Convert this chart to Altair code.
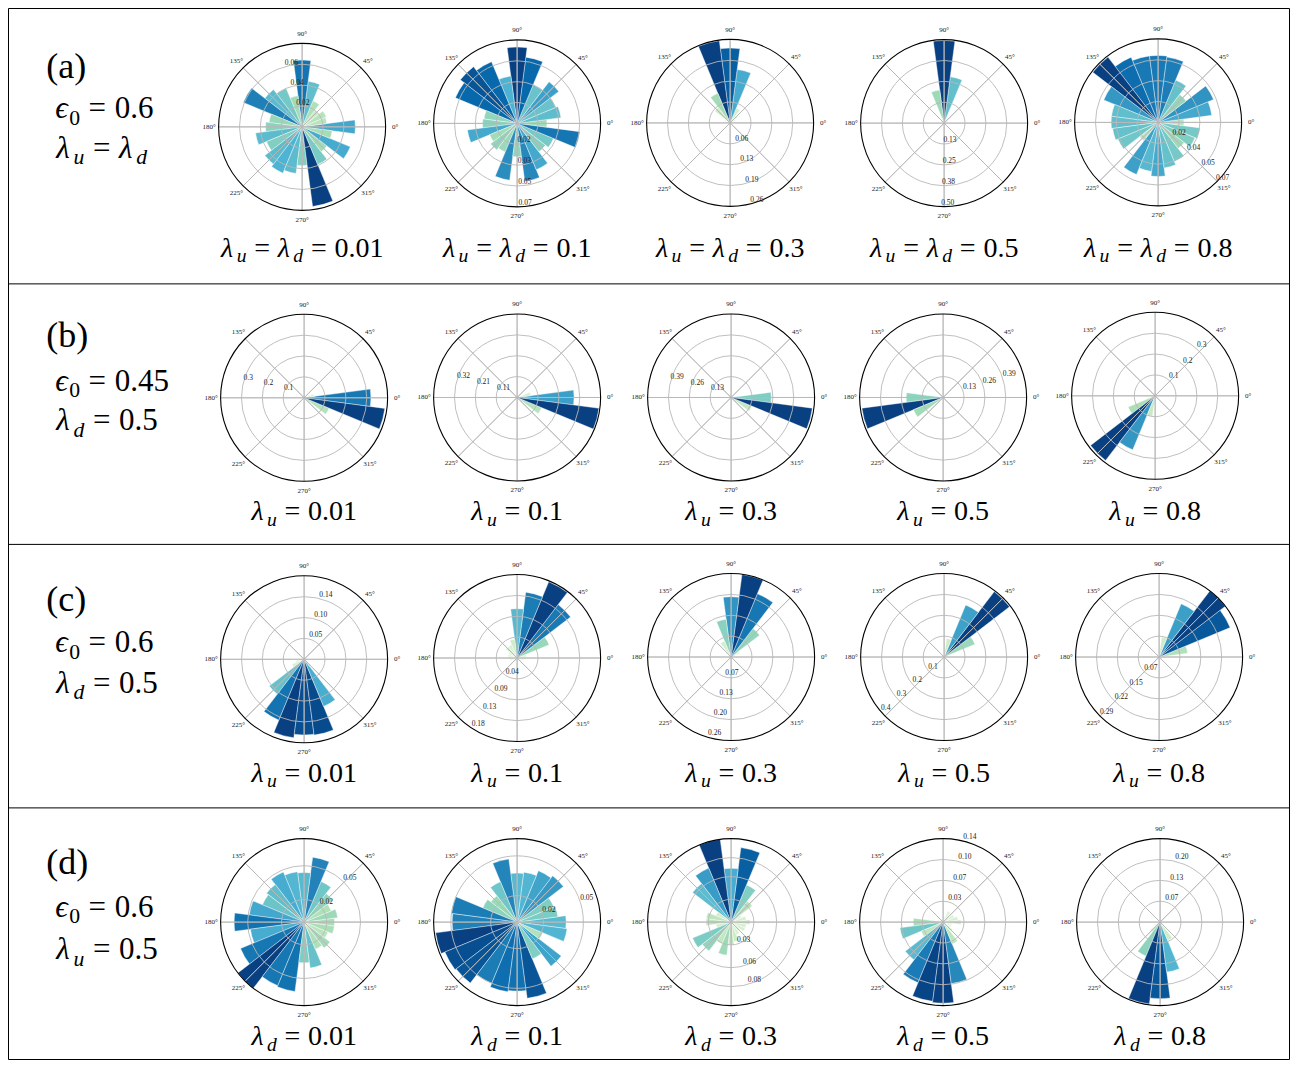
import math
import altair as alt
import pandas as pd

# ---------------- data ----------------
BIN_CENTRES = list(range(0, 360, 15))      # 24 bins, centred on 0°,15°,...
HALF_BIN = 7.5

A1 = [0.051, 0.024, 0.025, 0.020, 0.027, 0.044, 0.064, 0.030, 0.040, 0.045, 0.061, 0.032,
      0.035, 0.045, 0.037, 0.045, 0.048, 0.045, 0.037, 0.077, 0.039, 0.030, 0.050, 0.029]
A2 = [0.025, 0.037, 0.035, 0.044, 0.035, 0.056, 0.064, 0.040, 0.056, 0.060, 0.056, 0.028,
      0.029, 0.042, 0.025, 0.028, 0.026, 0.048, 0.028, 0.049, 0.042, 0.030, 0.033, 0.053]
A3 = [0.010, 0.010, 0.020, 0.030, 0.050, 0.168, 0.233, 0.258, 0.100, 0.060, 0.020, 0.010,
      0.008, 0.008, 0.006, 0.006, 0.006, 0.006, 0.006, 0.006, 0.006, 0.006, 0.008, 0.010]
A4 = [0.005, 0.005, 0.008, 0.010, 0.030, 0.280, 0.495, 0.200, 0.030, 0.010, 0.005, 0.005,
      0.004, 0.004, 0.004, 0.004, 0.004, 0.004, 0.004, 0.004, 0.004, 0.004, 0.004, 0.004]
A5 = [0.022, 0.046, 0.051, 0.030, 0.039, 0.056, 0.057, 0.057, 0.060, 0.070, 0.050, 0.040,
      0.040, 0.039, 0.037, 0.020, 0.048, 0.042, 0.046, 0.039, 0.036, 0.028, 0.034, 0.036]

B1 = [0.320, 0.050, 0.010, 0.004, 0.003, 0.003, 0.003, 0.003, 0.003, 0.003, 0.003, 0.003,
      0.003, 0.003, 0.003, 0.003, 0.003, 0.003, 0.003, 0.005, 0.008, 0.020, 0.130, 0.390]
B2 = [0.290, 0.070, 0.010, 0.004, 0.003, 0.003, 0.003, 0.003, 0.003, 0.003, 0.003, 0.003,
      0.003, 0.003, 0.003, 0.003, 0.003, 0.003, 0.003, 0.005, 0.008, 0.020, 0.135, 0.420]
B3 = [0.250, 0.030, 0.008, 0.004, 0.003, 0.003, 0.003, 0.003, 0.003, 0.003, 0.003, 0.003,
      0.003, 0.003, 0.003, 0.003, 0.003, 0.003, 0.003, 0.004, 0.006, 0.015, 0.140, 0.510]
B4 = [0.003, 0.003, 0.003, 0.003, 0.003, 0.003, 0.003, 0.003, 0.003, 0.004, 0.008, 0.020,
      0.230, 0.510, 0.200, 0.020, 0.005, 0.003, 0.003, 0.003, 0.003, 0.003, 0.003, 0.003]
B5 = [0.003, 0.003, 0.003, 0.003, 0.003, 0.003, 0.003, 0.003, 0.003, 0.003, 0.003, 0.005,
      0.008, 0.020, 0.140, 0.390, 0.280, 0.100, 0.020, 0.005, 0.003, 0.003, 0.003, 0.003]

C1 = [0.003, 0.003, 0.003, 0.003, 0.003, 0.003, 0.003, 0.003, 0.003, 0.004, 0.006, 0.010,
      0.010, 0.020, 0.030, 0.100, 0.150, 0.180, 0.172, 0.174, 0.116, 0.020, 0.010, 0.004]
C2 = [0.020, 0.020, 0.073, 0.142, 0.174, 0.140, 0.104, 0.040, 0.030, 0.030, 0.020, 0.020,
      0.018, 0.015, 0.010, 0.010, 0.008, 0.008, 0.008, 0.008, 0.008, 0.010, 0.010, 0.015]
C3 = [0.006, 0.010, 0.030, 0.113, 0.216, 0.262, 0.190, 0.120, 0.055, 0.020, 0.008, 0.006,
      0.005, 0.005, 0.005, 0.005, 0.005, 0.005, 0.005, 0.005, 0.005, 0.005, 0.005, 0.005]
C4 = [0.005, 0.020, 0.160, 0.395, 0.270, 0.090, 0.030, 0.010, 0.005, 0.004, 0.004, 0.004,
      0.004, 0.004, 0.004, 0.004, 0.004, 0.004, 0.004, 0.004, 0.004, 0.004, 0.004, 0.004]
C5 = [0.020, 0.100, 0.267, 0.290, 0.200, 0.070, 0.020, 0.008, 0.005, 0.004, 0.004, 0.004,
      0.004, 0.004, 0.004, 0.004, 0.004, 0.004, 0.004, 0.004, 0.004, 0.004, 0.004, 0.006]

D1 = [0.027, 0.030, 0.026, 0.032, 0.039, 0.058, 0.044, 0.045, 0.048, 0.042, 0.040, 0.049,
      0.062, 0.048, 0.061, 0.074, 0.061, 0.062, 0.036, 0.041, 0.026, 0.029, 0.023, 0.027]
D2 = [0.037, 0.031, 0.030, 0.044, 0.042, 0.038, 0.037, 0.048, 0.033, 0.025, 0.028, 0.050,
      0.049, 0.062, 0.059, 0.058, 0.050, 0.053, 0.052, 0.058, 0.030, 0.042, 0.021, 0.038]
D3 = [0.025, 0.020, 0.015, 0.035, 0.053, 0.099, 0.071, 0.110, 0.077, 0.064, 0.022, 0.033,
      0.033, 0.020, 0.055, 0.048, 0.031, 0.044, 0.030, 0.026, 0.018, 0.015, 0.020, 0.020]
D4 = [0.030, 0.025, 0.020, 0.010, 0.020, 0.010, 0.005, 0.005, 0.005, 0.005, 0.008, 0.010,
      0.050, 0.073, 0.040, 0.080, 0.110, 0.134, 0.136, 0.104, 0.040, 0.020, 0.015, 0.015]
D5 = [0.005, 0.005, 0.005, 0.005, 0.005, 0.005, 0.005, 0.005, 0.005, 0.005, 0.005, 0.005,
      0.005, 0.010, 0.020, 0.040, 0.117, 0.262, 0.243, 0.160, 0.063, 0.020, 0.005, 0.005]

VALUES = {"a1": A1, "a2": A2, "a3": A3, "a4": A4, "a5": A5,
          "b1": B1, "b2": B2, "b3": B3, "b4": B4, "b5": B5,
          "c1": C1, "c2": C2, "c3": C3, "c4": C4, "c5": C5,
          "d1": D1, "d2": D2, "d3": D3, "d4": D4, "d5": D5}

# outer radius of each rose (radial axis limit)
RMAX = {"a1": 0.08, "a2": 0.07, "a3": 0.26, "a4": 0.50, "a5": 0.071,
        "b1": 0.40, "b2": 0.425, "b3": 0.52, "b4": 0.52, "b5": 0.40,
        "c1": 0.19, "c2": 0.176, "c3": 0.263, "c4": 0.40, "c5": 0.29,
        "d1": 0.074, "d2": 0.063, "d3": 0.11, "d4": 0.14, "d5": 0.265}

# radial ticks (grid circles) and their labels
TICKS = {"a1": [0.02, 0.04, 0.06], "a2": [0.0175, 0.035, 0.0525, 0.07],
         "a3": [0.065, 0.13, 0.195, 0.26], "a4": [0.125, 0.25, 0.375, 0.50],
         "a5": [0.01775, 0.0355, 0.05325, 0.071],
         "b1": [0.1, 0.2, 0.3], "b2": [0.10625, 0.2125, 0.31875], "b3": [0.13, 0.26, 0.39],
         "b4": [0.13, 0.26, 0.39], "b5": [0.1, 0.2, 0.3],
         "c1": [0.0475, 0.095, 0.1425], "c2": [0.044, 0.088, 0.132, 0.176],
         "c3": [0.06575, 0.1315, 0.19725, 0.263], "c4": [0.1, 0.2, 0.3, 0.4],
         "c5": [0.0725, 0.145, 0.2175, 0.29],
         "d1": [0.02, 0.05], "d2": [0.02, 0.05], "d3": [0.03, 0.06, 0.085],
         "d4": [0.035, 0.07, 0.105, 0.14], "d5": [0.06625, 0.1325, 0.19875]}
TICK_TEXT = {"a1": ["0.02", "0.04", "0.06"], "a2": ["0.02", "0.03", "0.05", "0.07"],
             "a3": ["0.06", "0.13", "0.19", "0.26"], "a4": ["0.13", "0.25", "0.38", "0.50"],
             "a5": ["0.02", "0.04", "0.05", "0.07"],
             "b1": ["0.1", "0.2", "0.3"], "b2": ["0.11", "0.21", "0.32"], "b3": ["0.13", "0.26", "0.39"],
             "b4": ["0.13", "0.26", "0.39"], "b5": ["0.1", "0.2", "0.3"],
             "c1": ["0.05", "0.10", "0.14"], "c2": ["0.04", "0.09", "0.13", "0.18"],
             "c3": ["0.07", "0.13", "0.20", "0.26"], "c4": ["0.1", "0.2", "0.3", "0.4"],
             "c5": ["0.07", "0.15", "0.22", "0.29"],
             "d1": ["0.02", "0.05"], "d2": ["0.02", "0.05"], "d3": ["0.03", "0.06", "0.08"],
             "d4": ["0.03", "0.07", "0.10", "0.14"], "d5": ["0.07", "0.13", "0.20"]}
# direction (degrees, counter-clockwise from east) of the radial tick labels
RLABEL_ANGLE = {"a1": 106, "a2": 271, "a3": 284, "a4": 268, "a5": 314,
                "b1": 165, "b2": 164, "b3": 165, "b4": 18, "b5": 48,
                "c1": 76, "c2": 237, "c3": 254, "c4": 221, "c5": 225,
                "d1": 46, "d2": 18, "d3": 285, "d4": 76, "d5": 76}

ANGLE_TICKS = [0, 45, 90, 135, 180, 225, 270, 315]
ANGLE_TEXT = ["0°", "45°", "90°", "135°", "180°", "225°", "270°", "315°"]

LAMBDA_VALUES = ["0.01", "0.1", "0.3", "0.5", "0.8"]
CAPTION_KIND = {"a": "both", "b": "u", "c": "u", "d": "d"}
ROW_TAG = {"a": "(a)", "b": "(b)", "c": "(c)", "d": "(d)"}
ROW_EPS = {"a": "0.6", "b": "0.45", "c": "0.6", "d": "0.6"}
ROW_FIXED = {"a": ("both", ""), "b": ("d", "0.5"), "c": ("d", "0.5"), "d": ("u", "0.5")}

# GnBu colour ramp (stops evenly spaced on [0, 1])
GNBU = ["#f7fcf0", "#e0f3db", "#ccebc5", "#a8ddb5", "#7bccc4",
        "#4eb3d3", "#2b8cbe", "#0868ac", "#084081"]

# ---------------- layout (reference pixel frame) ----------------
R = 83.5
PANEL_CX = {"a": [300, 516, 730, 945, 1160], "b": [302, 516, 731, 944, 1157],
            "c": [302, 516, 731, 945, 1161], "d": [302, 516, 731, 944, 1162]}
PANEL_CY = {"a": [124.5, 121, 120.5, 120.7, 120], "b": [398, 397.7, 397.7, 397.7, 396],
            "c": [662, 660.7, 659.7, 659.7, 659.7], "d": [927.3, 927.3, 927.3, 927.3, 927.3]}
CAPTION_BASE = {"a": 255.5, "b": 521.5, "c": 785.5, "d": 1051.5}
LABEL_BASE = {"a": (75, 116, 156), "b": (347, 391, 431), "c": (613, 655, 696), "d": (879, 922, 965)}
LABEL_X = (43, 52, 53)
ROW_EDGES = [5, 283, 546, 812, 1066]
X_EDGES = [5, 1292]
FONT = "Liberation Serif, DejaVu Serif, serif"
CAP_SIZE = 28
LAB_SIZE = 31
TAG_SIZE = 36

# ---------------- build tables ----------------
bars, circles, spokes, outer, alabels, rlabels = [], [], [], [], [], []
for row in "abcd":
    for j in range(5):
        key = f"{row}{j + 1}"
        vals, rmax = VALUES[key], RMAX[key]
        vmax = max(vals)
        cx, cy = PANEL_CX[row][j], PANEL_CY[row][j]
        for ang, v in zip(BIN_CENTRES, vals):
            bars.append(dict(cx=cx, cy=cy, a0=ang - HALF_BIN, a1=ang + HALF_BIN,
                             norm=v / rmax, shade=v / vmax))
        for t, txt in zip(TICKS[key], TICK_TEXT[key]):
            if t < rmax * 0.999:
                circles.append(dict(cx=cx, cy=cy, t0=0, t1=360.5, rn=t / rmax))
            rlabels.append(dict(cx=cx, cy=cy, ang=RLABEL_ANGLE[key], rn=t / rmax, txt=txt))
        outer.append(dict(cx=cx, cy=cy, t0=0, t1=360.5, rn=1.0))
        for ang, txt in zip(ANGLE_TICKS, ANGLE_TEXT):
            spokes.append(dict(cx=cx, cy=cy, s0=ang, s1=ang + 0.01, rn=1.0))
            alabels.append(dict(cx=cx, cy=cy, ang=ang, rn=1.0 + 9.5 / R, txt=txt))

borders = []
for yv in ROW_EDGES:
    borders.append(dict(x=X_EDGES[0], x2=X_EDGES[1], y=yv, y2=yv))
for xv in X_EDGES:
    borders.append(dict(x=xv, x2=xv, y=ROW_EDGES[0], y2=ROW_EDGES[-1]))

# rich text (math-like) pieces
W_UP = {"(": 0.333, ")": 0.333, "a": 0.444, "b": 0.5, "c": 0.444, "d": 0.5,
        ".": 0.25, "=": 0.564, " ": 0.25}
W_IT = {"λ": 0.56, "ϵ": 0.45, "u": 0.5, "d": 0.5}
GAP = 0.28


def glyph_w(ch, italic):
    if ch.isdigit():
        return 0.5
    return (W_IT if italic else W_UP).get(ch, 0.5)


def lam(sub):
    return [("it", "λ"), ("subit", sub)]


def eq():
    return [("gap", GAP), ("rm", "="), ("gap", GAP)]


def layout(segs, size, x0, base, center=False):
    items, x = [], 0.0
    for kind, txt in segs:
        if kind == "gap":
            x += txt * size
            continue
        sub = kind.startswith("sub")
        italic = kind.endswith("it")
        s = size * 0.7 if sub else size
        w = sum(glyph_w(c, italic) for c in txt) * s
        items.append(dict(tx=x, ty=base + (0.2 * size if sub else 0), txt=txt, fs=s, it=italic))
        x += w
    off = x0 - x / 2 if center else x0
    for it in items:
        it["tx"] += off
    return items


pieces = []
for row in "abcd":
    kind = CAPTION_KIND[row]
    for j, val in enumerate(LAMBDA_VALUES):
        if kind == "both":
            segs = lam("u") + eq() + lam("d") + eq() + [("rm", val)]
        else:
            segs = lam(kind) + eq() + [("rm", val)]
        pieces += layout(segs, CAP_SIZE, PANEL_CX[row][j], CAPTION_BASE[row], center=True)
    b1, b2, b3 = LABEL_BASE[row]
    pieces += layout([("rm", ROW_TAG[row])], TAG_SIZE, LABEL_X[0], b1)
    pieces += layout([("it", "ϵ"), ("subrm", "0")] + eq() + [("rm", ROW_EPS[row])], LAB_SIZE, LABEL_X[1], b2)
    fk, fv = ROW_FIXED[row]
    if fk == "both":
        segs = lam("u") + eq() + lam("d")
    else:
        segs = lam(fk) + eq() + [("rm", fv)]
    pieces += layout(segs, LAB_SIZE, LABEL_X[2], b3)

pieces_rm = pd.DataFrame([p for p in pieces if not p["it"]])
pieces_it = pd.DataFrame([p for p in pieces if p["it"]])

# ---------------- scales ----------------
PI = math.pi
x_scale = alt.Scale(domain=[5, 1292], range=[0.5, 1281.5], nice=False, zero=False)
y_scale = alt.Scale(domain=[5, 1066], range=[0.5, 1051.5], nice=False, zero=False)
th_scale = alt.Scale(domain=[0, 360], range=[PI / 2, PI / 2 - 2 * PI], nice=False, zero=False)
r_scale = alt.Scale(type="linear", domain=[0, 1], range=[0, R], nice=False)
c_scale = alt.Scale(type="linear", domain=[k / (len(GNBU) - 1) for k in range(len(GNBU))],
                    range=GNBU, interpolate="rgb")

X = alt.X("cx:Q", scale=x_scale, axis=None)
Y = alt.Y("cy:Q", scale=y_scale, axis=None)
GRID = "#b8b8b8"

bar_layer = alt.Chart(pd.DataFrame(bars)).mark_arc(stroke="white", strokeWidth=0.4).encode(
    x=X, y=Y,
    theta=alt.Theta("a0:Q", scale=th_scale, stack=False),
    theta2=alt.Theta2("a1:Q"),
    radius=alt.Radius("norm:Q", scale=r_scale),
    color=alt.Color("shade:Q", scale=c_scale, legend=None),
)

circle_layer = alt.Chart(pd.DataFrame(circles)).mark_arc(
    fillOpacity=0, stroke=GRID, strokeWidth=0.9).encode(
    x=X, y=Y,
    theta=alt.Theta("t0:Q", scale=th_scale, stack=False),
    theta2=alt.Theta2("t1:Q"),
    radius=alt.Radius("rn:Q", scale=r_scale),
)

spoke_layer = alt.Chart(pd.DataFrame(spokes)).mark_arc(
    fillOpacity=0, stroke=GRID, strokeWidth=0.9).encode(
    x=X, y=Y,
    theta=alt.Theta("s0:Q", scale=th_scale, stack=False),
    theta2=alt.Theta2("s1:Q"),
    radius=alt.Radius("rn:Q", scale=r_scale),
)

outer_layer = alt.Chart(pd.DataFrame(outer)).mark_arc(
    fillOpacity=0, stroke="black", strokeWidth=1.1).encode(
    x=X, y=Y,
    theta=alt.Theta("t0:Q", scale=th_scale, stack=False),
    theta2=alt.Theta2("t1:Q"),
    radius=alt.Radius("rn:Q", scale=r_scale),
)

alabel_layer = alt.Chart(pd.DataFrame(alabels)).mark_text(
    font=FONT, fontSize=7, color="#222222", align="center", baseline="middle").encode(
    x=X, y=Y,
    theta=alt.Theta("ang:Q", scale=th_scale, stack=False),
    radius=alt.Radius("rn:Q", scale=r_scale),
    text="txt:N",
)

rlabel_layer = alt.Chart(pd.DataFrame(rlabels)).mark_text(
    font=FONT, fontSize=7.5, color="#222222", align="left", baseline="bottom").encode(
    x=X, y=Y,
    theta=alt.Theta("ang:Q", scale=th_scale, stack=False),
    radius=alt.Radius("rn:Q", scale=r_scale),
    text="txt:N",
)

border_layer = alt.Chart(pd.DataFrame(borders)).mark_rule(color="black", strokeWidth=1).encode(
    x=alt.X("x:Q", scale=x_scale, axis=None), x2="x2:Q",
    y=alt.Y("y:Q", scale=y_scale, axis=None), y2="y2:Q",
)

TX = alt.X("tx:Q", scale=x_scale, axis=None)
TY = alt.Y("ty:Q", scale=y_scale, axis=None)
text_rm = alt.Chart(pieces_rm).mark_text(
    font=FONT, align="left", baseline="alphabetic", color="black").encode(
    x=TX, y=TY, text="txt:N", size=alt.Size("fs:Q", scale=None))
text_it = alt.Chart(pieces_it).mark_text(
    font=FONT, fontStyle="italic", align="left", baseline="alphabetic", color="black").encode(
    x=TX, y=TY, text="txt:N", size=alt.Size("fs:Q", scale=None))

chart = alt.layer(
    bar_layer, circle_layer, spoke_layer, outer_layer, alabel_layer, rlabel_layer,
    border_layer, text_rm, text_it,
).properties(
    width=1282, height=1052, padding=0,
    autosize=alt.AutoSizeParams(type="none"),
    background="white",
).configure_view(stroke=None)

chart.save("out.html", embed_options={"renderer": "svg", "actions": False})
